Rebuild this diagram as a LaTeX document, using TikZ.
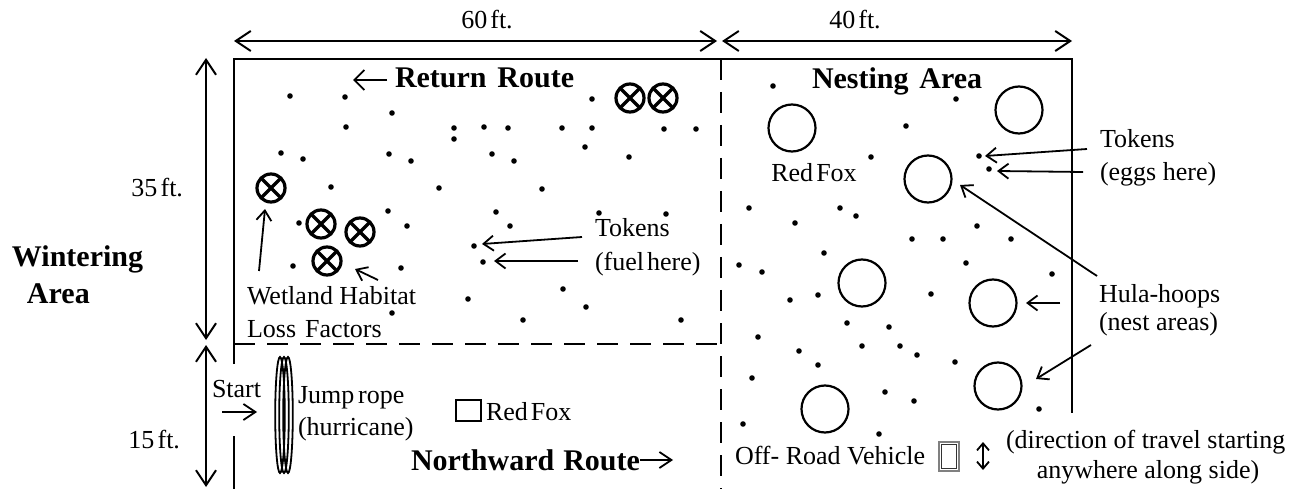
\documentclass[tikz,border=0pt]{standalone}
\usepackage{fontspec}
\setmainfont{Liberation Serif}
\usetikzlibrary{arrows.meta}

\tikzset{
  every node/.style={inner sep=0pt, outer sep=0pt},
  txt/.style={font=\fontsize{26}{30}\selectfont},
  heading/.style={font=\fontsize{30}{34}\selectfont\bfseries},
  border/.style={line width=2.6pt},
  divider/.style={line width=2.4pt, dash pattern=on 21pt off 12pt},
  dimline/.style={line width=2pt,
    {Straight Barb[length=15pt,width=20pt]}-{Straight Barb[length=15pt,width=20pt]}},
  pointer/.style={line width=1.8pt, -{Straight Barb[length=10pt,width=15pt]}},
  hoop/.style={circle, draw, line width=2.2pt, minimum size=47pt},
  loss/.style={circle, draw, line width=3.2pt, minimum size=28pt,
    path picture={\draw[line width=3.4pt]
      (path picture bounding box.north west) -- (path picture bounding box.south east)
      (path picture bounding box.north east) -- (path picture bounding box.south west);}},
  token/.style={circle, fill, minimum size=5.6pt},
}

\begin{document}
\begin{tikzpicture}[x=1pt, y=-1pt]
\useasboundingbox (0,0) rectangle (1299,489);

% field outline (opening on the left for the start)
\draw[border] (234,364) -- (234,59) -- (1072,59) -- (1072,413);
\draw[border] (234,436) -- (234,489);
\draw[divider] (721,59) -- (721,489);
\draw[divider] (234,344) -- (721,344);

% dimensions
\coordinate (d60a) at (234,41);  \coordinate (d60b) at (717,41);
\coordinate (d40a) at (722,41);  \coordinate (d40b) at (1072,41);
\coordinate (d35a) at (206,58);  \coordinate (d35b) at (206,340);
\coordinate (d15a) at (206,345); \coordinate (d15b) at (206,487);
\draw[dimline] (d60a) -- (d60b);
\draw[dimline] (d40a) -- (d40b);
\draw[dimline] (d35a) -- (d35b);
\draw[dimline] (d15a) -- (d15b);
\node[txt, anchor=base] (l60) at (487,29) {60\hspace{0.12em}ft.};
\node[txt, anchor=base] (l40) at (855,29) {40\hspace{0.12em}ft.};
\node[txt, anchor=base east] (l35) at (183,197) {35\hspace{0.12em}ft.};
\node[txt, anchor=base east] (l15) at (180,448) {15\hspace{0.12em}ft.};

\node[heading, anchor=base west] (wint) at (12,267) {Wintering};
\node[heading, anchor=base west] (warea) at (27,303) {Area};

% tokens
\foreach \px/\py [count=\i] in {
  290/96, 345/97, 392/113, 346/127, 454/128, 454/139, 281/153, 303/159,
  389/154, 411/161, 331/187, 439/188, 299/223, 388/211, 407/226, 484/127,
  508/128, 562/128, 592/128, 664/129, 696/129, 592/99, 492/154, 514/161,
  585/147, 629/157, 542/189, 496/212, 510/226, 599/213, 666/214, 474/246,
  483/262, 293/266, 401/268, 468/299, 563/289, 586/307, 523/320, 681/320,
  392/313,
  773/86, 956/99, 906/126, 871/157, 979/156, 989/169, 749/208, 840/208,
  856/216, 795/223, 977/226, 912/239, 943/239, 1011/239, 824/253, 739/265,
  762/272, 966/263, 1052/274, 790/300, 818/295, 931/294, 847/323, 889/327,
  758/337, 799/351, 862/346, 900/346, 917/355, 955/362, 818/365, 752/378,
  885/392, 914/401, 1039/409, 743/424, 879/434}
  \node[token] (t\i) at (\px,\py) {};

% wetland habitat loss factors
\node[loss] (x1) at (271,188) {};
\node[loss] (x2) at (321,224) {};
\node[loss] (x3) at (360,232) {};
\node[loss] (x4) at (327,261) {};
\node[loss] (x5) at (630,98) {};
\node[loss] (x6) at (663,98) {};

% hula-hoops (nest areas)
\node[hoop] (h1) at (792,128) {};
\node[hoop] (h2) at (1019,110) {};
\node[hoop] (h3) at (928,179) {};
\node[hoop] (h4) at (862,283) {};
\node[hoop] (h5) at (993,303) {};
\node[hoop] (h6) at (998,386) {};
\node[hoop] (h7) at (825,409) {};

% headings
\coordinate (rra) at (387,80); \coordinate (rrb) at (353,80);
\draw[line width=1.8pt, -{Straight Barb[length=10pt,width=20pt]}] (rra) -- (rrb);
\node[heading, anchor=base west] (ret) at (395,88) {Return\hspace{0.36em}Route};
\node[heading, anchor=base west] (nest) at (812,89) {Nesting\hspace{0.36em}Area};
\node[heading, anchor=base west] (north) at (411,470) {Northward\hspace{0.3em}Route};
\coordinate (nra) at (640,460); \coordinate (nrb) at (673,460);
\draw[line width=1.8pt, -{Straight Barb[length=12pt,width=16pt]}] (nra) -- (nrb);

% labels in the return area
\node[txt, anchor=base west] (wet1) at (247,304) {Wetland Habitat};
\node[txt, anchor=base west] (wet2) at (247,337) {Loss\hspace{0.35em}Factors};
\coordinate (wa1) at (259,271); \coordinate (wb1) at (265,209);
\draw[pointer] (wa1) -- (wb1);
\coordinate (wa2) at (378,280); \coordinate (wb2) at (355,269);
\draw[pointer] (wa2) -- (wb2);

\node[txt, anchor=base west] (tokf) at (595,237) {Tokens};
\node[txt, anchor=base west] (fuel) at (595,270) {(fuel\hspace{0.12em}here)};
\coordinate (fa1) at (582,237); \coordinate (fb1) at (482,244);
\draw[pointer] (fa1) -- (fb1);
\coordinate (fa2) at (578,261); \coordinate (fb2) at (494,261);
\draw[pointer] (fa2) -- (fb2);

% labels in the nesting area
\node[txt, anchor=base] (fox1) at (814,182) {Red\hspace{0.12em}Fox};
\node[txt, anchor=base west] (toke) at (1100,148) {Tokens};
\node[txt, anchor=base west] (eggs) at (1100,181) {(eggs here)};
\coordinate (ea1) at (1087,149); \coordinate (eb1) at (985,156);
\draw[pointer] (ea1) -- (eb1);
\coordinate (ea2) at (1083,172); \coordinate (eb2) at (997,171);
\draw[pointer] (ea2) -- (eb2);

\node[txt, anchor=base west] (hula) at (1099,302) {Hula-hoops};
\node[txt, anchor=base west] (nareas) at (1099,330) {(nest areas)};
\coordinate (ha1) at (1097,276); \coordinate (hb1) at (960,185);
\draw[pointer] (ha1) -- (hb1);
\coordinate (ha2) at (1060,303); \coordinate (hb2) at (1026,303);
\draw[pointer] (ha2) -- (hb2);
\coordinate (ha3) at (1091,345); \coordinate (hb3) at (1036,379);
\draw[pointer] (ha3) -- (hb3);

% start and jump rope
\node[txt, anchor=base west] (start) at (212,397) {Start};
\coordinate (sa) at (222,412); \coordinate (sb) at (257,412);
\draw[line width=1.8pt, -{Straight Barb[length=12pt,width=16pt]}] (sa) -- (sb);
\foreach \cx in {280,284,288}
  \draw[line width=1.8pt] (\cx,415) ellipse [x radius=4.8pt, y radius=58pt];
\node[txt, anchor=base west] (jump) at (298,403) {Jump\hspace{0.15em}rope};
\node[txt, anchor=base west] (hurr) at (298,435) {(hurricane)};

% red fox legend
\node[draw, line width=2pt, minimum width=25pt, minimum height=21pt] (foxbox) at (468,410) {};
\node[txt, anchor=base west] (fox2) at (486,420) {Red\hspace{0.12em}Fox};

% off-road vehicle legend
\node[txt, anchor=base west] (orv) at (735,464) {Off- Road Vehicle};
\node[draw=gray, line width=1.4pt, minimum width=20pt, minimum height=29pt] (veh) at (949,456.5) {};
\node[draw=black!80, line width=0.7pt, minimum width=14.5pt, minimum height=23.5pt] (vehin) at (949,456.5) {};
\coordinate (va) at (983,442); \coordinate (vb) at (983,470);
\draw[line width=1.8pt, {Straight Barb[length=7pt,width=12pt]}-{Straight Barb[length=7pt,width=12pt]}] (va) -- (vb);
\node[txt, anchor=base west] (dir1) at (1006,448) {(direction of travel starting};
\node[txt, anchor=base] (dir2) at (1148,478) {anywhere along side)};
\end{tikzpicture}
\end{document}
